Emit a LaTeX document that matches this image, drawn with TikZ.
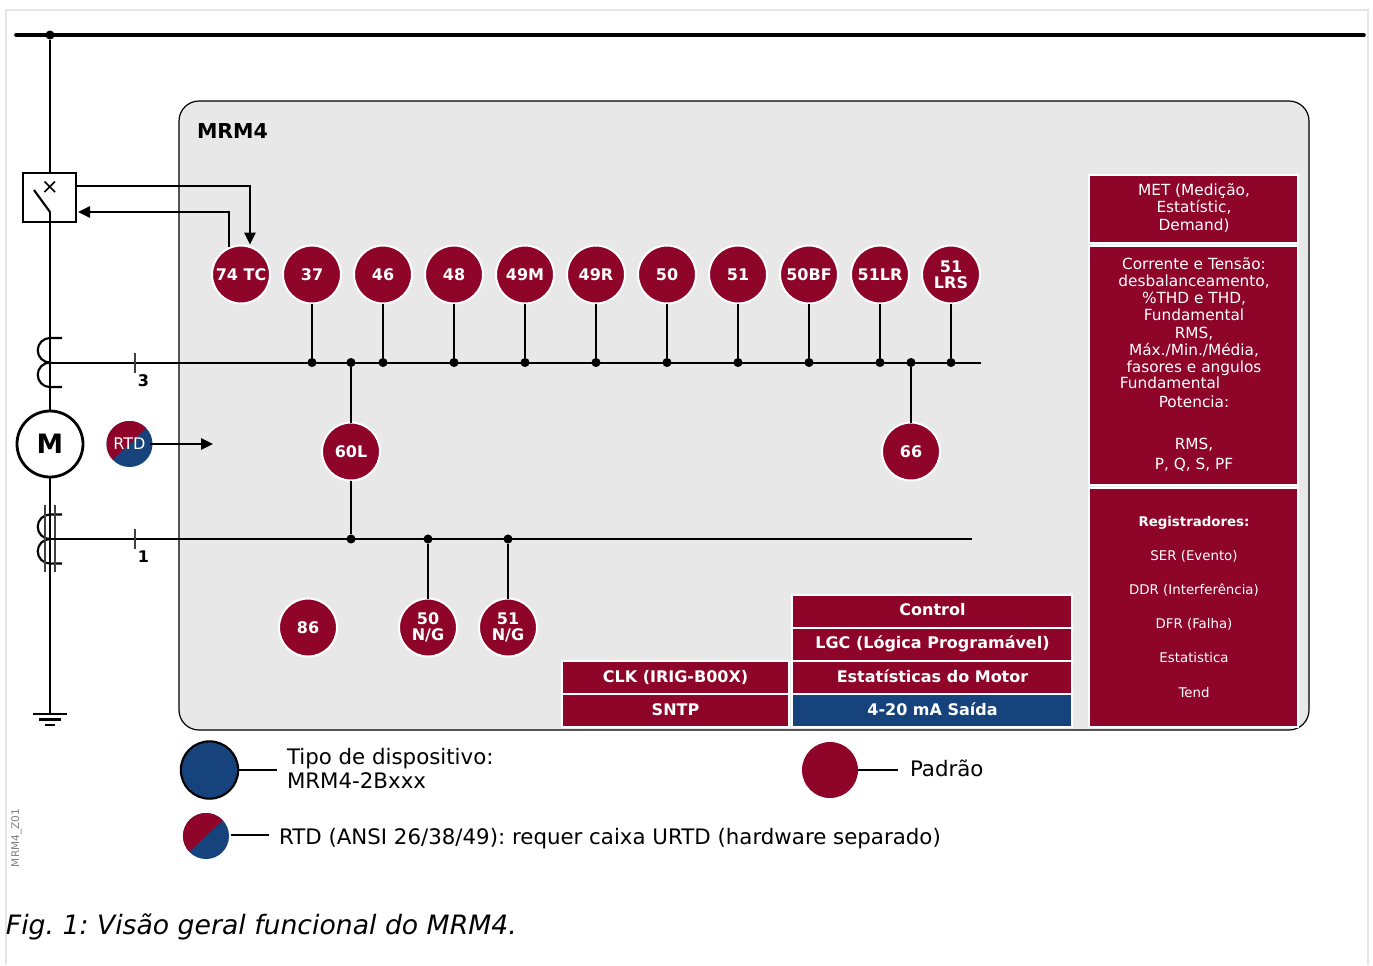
\documentclass[tikz,border=0pt]{standalone}
\usepackage{fontspec}
\setmainfont{DejaVu Sans}
\frenchspacing
\usetikzlibrary{arrows.meta,calc}
\definecolor{wred}{HTML}{8E0529}
\definecolor{wblue}{HTML}{17437C}
\definecolor{panel}{HTML}{E8E8E8}
\definecolor{framec}{HTML}{E6E6E6}
\tikzset{
  x=0.75pt,y=-0.75pt,
  every node/.style={inner sep=0pt,outer sep=0pt},
  wire/.style={draw=black,line width=1.6pt},
  bus/.style={draw=black,line width=1.5pt},
  arr/.style={wire,-{Triangle[length=9pt,width=8.5pt]}},
  dot/.style={circle,fill=black,minimum size=6.8pt},
  func/.style={circle,fill=wred,draw=white,line width=1.5pt,minimum size=43.5pt,text=white,
    font=\fontsize{12}{12}\selectfont\bfseries,align=center},
  block/.style={rectangle,fill=wred,draw=white,line width=1.5pt,anchor=north west},
  blocktxt/.style={text=white,font=\fontsize{11.5}{12.9}\selectfont,align=center},
  smalltxt/.style={text=white,font=\fontsize{10}{12}\selectfont},
  headtxt/.style={text=white,anchor=base,font=\fontsize{12}{12}\selectfont\bfseries},
  legend/.style={font=\fontsize{16}{18}\selectfont,text=black},
}
\newcommand{\blockat}[5]{\node[block,#5,minimum width=#3*0.75pt,minimum height=#4*0.75pt] (#1) at (#2) {};}
\begin{document}
\begin{tikzpicture}
\useasboundingbox (0,0) rectangle (1373,965);
\fill[white] (0,0) rectangle (1373,965);
\draw[framec,line width=1.5pt] (6,965) -- (6,9.5) -- (1368,9.5) -- (1368,965);

% main panel
\node[rectangle,draw=black,line width=0.9pt,fill=panel,rounded corners=15pt,anchor=north west,
  minimum width=1130*0.75pt,minimum height=629*0.75pt] (panel) at (179,101) {};
\node[anchor=base west,font=\fontsize{15.4}{16}\selectfont\bfseries] (title) at (197,138) {MRM4};

% feeder elements
\coordinate (busL) at (16,35);
\coordinate (busR) at (1364,35);
\draw[draw=black,line width=2.7pt,line cap=round] (busL) -- (busR);
\node[dot] (top) at (50,35) {};
\node[rectangle,draw=black,line width=1.5pt,fill=white,minimum width=53*0.75pt,minimum height=49*0.75pt] (brk) at (49.5,197.5) {};
\coordinate (pivot) at (50,212);
\coordinate (blade) at (34,190);
\coordinate (gnd) at (50,714);
\coordinate (brkT) at (50,173);
\draw[wire] (top) -- (brkT);
\node[circle,draw=black,line width=2.1pt,fill=white,minimum size=49.5pt,font=\fontsize{20}{20}\selectfont\bfseries] (motor) at (50,444) {\raisebox{-1.5pt}{M}};
\draw[wire] (pivot) -- (motor);
\draw[wire] (motor) -- (gnd);
\draw[wire] (blade) -- (pivot);
\draw[draw=black,line width=1.3pt] (44.5,181.5) -- (55,192) (55,181.5) -- (44.5,192);
\draw[wire] (33,714) -- (67,714) (39,719.5) -- (61,719.5) (45,725) -- (55,725);

% CT coils
\draw[wire] (62,338) -- (50,338) arc[start angle=90,end angle=270,radius=9.2pt]
  arc[start angle=90,end angle=270,radius=9.2pt] -- (62,387);
\draw[wire] (62,514.5) -- (50,514.5) arc[start angle=90,end angle=270,radius=9.2pt]
  arc[start angle=90,end angle=270,radius=9.2pt] -- (62,563.5);
\draw[draw=black!75,line width=1pt] (45,505) -- (45,572);
\draw[draw=black!75,line width=1.2pt] (55,505) -- (55,572);

% measurement buses
\coordinate (iL) at (50,362.5);
\coordinate (iR) at (981,362.5);
\coordinate (eL) at (50,539);
\coordinate (eR) at (972,539);
\draw[bus] (iL) -- (iR);
\draw[bus] (eL) -- (eR);
\draw[draw=black!75,line width=0.9pt] (135,352.5) -- (135,372.5) (135,529) -- (135,549);
\node[font=\fontsize{12}{12}\selectfont\bfseries] (n3) at (143.5,380.5) {3};
\node[font=\fontsize{12}{12}\selectfont\bfseries] (n1) at (143.5,556.5) {1};

% function circles on the current bus
\foreach \nm/\xx/\lab in {c37/312/37,c46/383/46,c48/454/48,c49M/525/49M,c49R/596/49R,c50/667/50,c51/738/51,c50BF/809/50BF,c51LR/880/51LR,c51LRS/951/{51\\[-0.3pt]LRS}}{
  \node[dot] (j\nm) at (\xx,362.5) {};
  \node[func] (\nm) at (\xx,274.5) {\lab};
  \draw[wire] (\nm) -- (j\nm);
}
\node[func] (c74) at (241,274.5) {74 TC};
\node[func] (c60L) at (351,451.5) {60L};
\node[func] (c66) at (911,451.5) {66};
\node[func] (c86) at (308,627.5) {86};
\node[func] (c50N) at (428,627.5) {50\\[-0.3pt]N/G};
\node[func] (c51N) at (508,627.5) {51\\[-0.3pt]N/G};
\node[dot] (j60a) at (351,362.5) {};
\node[dot] (j60b) at (351,539) {};
\node[dot] (j66) at (911,362.5) {};
\node[dot] (j50N) at (428,539) {};
\node[dot] (j51N) at (508,539) {};
\draw[wire] (j60a) -- (c60L);
\draw[wire] (c60L) -- (j60b);
\draw[wire] (j66) -- (c66);
\draw[wire] (j50N) -- (c50N);
\draw[wire] (j51N) -- (c51N);

% trip loop
\coordinate (tripA) at (76,186);
\coordinate (tripB) at (250,186);
\coordinate (tripC) at (250,244.5);
\coordinate (backA) at (229,247);
\coordinate (backB) at (229,212);
\coordinate (backC) at (78,212);
\draw[arr] (tripA) -- (tripB) -- (tripC);
\draw[arr] (backA) -- (backB) -- (backC);

% RTD
\node[circle,fill=wblue,minimum size=34.5pt] (rtd) at (129.5,444) {};
\fill[wred] (rtd.43) arc[start angle=43,end angle=223,radius=17.25pt] -- cycle;
\node[text=white,font=\fontsize{12}{12}\selectfont] (rtdt) at (129.5,444) {RTD};
\coordinate (rtdA) at (150,444);
\coordinate (rtdB) at (213,444);
\draw[arr] (rtdA) -- (rtdB);

% function blocks
\blockat{metb}{1089,174.5}{209}{68}{}
\node[blocktxt] (mett) at (1194,208) {MET (Medição,\\Estatístic,\\Demand)};
\blockat{corb}{1089,245.5}{209}{239}{}
\node[blocktxt] (cort) at (1194,364.5) {Corrente e Tensão:\\desbalanceamento,\\\%THD e THD,\\Fundamental\\RMS,\\Máx./Min./Média,\\fasores e angulos\\[-1pt]Fundamental\hspace*{36pt}\null\\[1.3pt]Potencia:\\[18.5pt]RMS,\\[2.5pt]P, Q, S, PF};
\blockat{regb}{1089,488}{209}{239}{}
\node[smalltxt,font=\fontsize{10}{12}\selectfont\bfseries] (reg1) at (1194,522.5) {Registradores:};
\node[smalltxt] (reg2) at (1194,556.5) {SER (Evento)};
\node[smalltxt] (reg3) at (1194,590.5) {DDR (Interferência)};
\node[smalltxt] (reg4) at (1194,624.5) {DFR (Falha)};
\node[smalltxt] (reg5) at (1194,658) {Estatistica};
\node[smalltxt] (reg6) at (1194,693) {Tend};

\blockat{ctl}{792,594.5}{280}{33}{}
\node[headtxt] (ctlt) at (932.5,615) {Control};
\blockat{lgc}{792,627.5}{280}{33}{}
\node[headtxt] (lgct) at (932.5,648.5) {LGC (Lógica Programável)};
\blockat{est}{792,661}{280}{33}{}
\node[headtxt] (estt) at (932.5,682) {Estatísticas do Motor};
\blockat{out}{792,694}{280}{33}{fill=wblue}
\node[headtxt] (outt) at (932.5,715) {4-20 mA Saída};
\blockat{clk}{562,661}{227}{33}{}
\node[headtxt] (clkt) at (675.5,682) {CLK (IRIG-B00X)};
\blockat{snt}{562,694}{227}{33}{}
\node[headtxt] (sntt) at (675.5,715) {SNTP};

% legend
\node[circle,draw=black,line width=1.6pt,fill=wblue,minimum size=43pt] (lgB) at (209.5,770) {};
\coordinate (lgBe) at (277,770);
\draw[wire] (lgB) -- (lgBe);
\node[legend,anchor=base west] (lgB1) at (287,764) {Tipo de dispositivo:};
\node[legend,anchor=base west] (lgB2) at (287,788) {MRM4-2Bxxx};
\node[circle,fill=wred,minimum size=42pt] (lgR) at (830,770) {};
\coordinate (lgRe) at (898,770);
\draw[wire] (lgR) -- (lgRe);
\node[legend,anchor=base west] (lgR1) at (910,776) {Padrão};
\node[circle,fill=wblue,minimum size=34.5pt] (lgT) at (206,836) {};
\fill[wred] (lgT.43) arc[start angle=43,end angle=223,radius=17.25pt] -- cycle;
\coordinate (lgTs) at (231,835);
\coordinate (lgTe) at (269,835);
\draw[wire] (lgTs) -- (lgTe);
\node[legend,anchor=base west] (lgT1) at (279,844) {RTD (ANSI 26/38/49): requer caixa URTD (hardware separado)};

\node[rotate=90,text=black!50,font=\fontsize{7.9}{9}\selectfont] (code) at (16.5,838) {MRM4\_Z01};
\node[anchor=base west,font=\fontsize{20}{22}\selectfont\itshape] (cap) at (6,934) {Fig. 1: Visão geral funcional do MRM4.};
\end{tikzpicture}
\end{document}
